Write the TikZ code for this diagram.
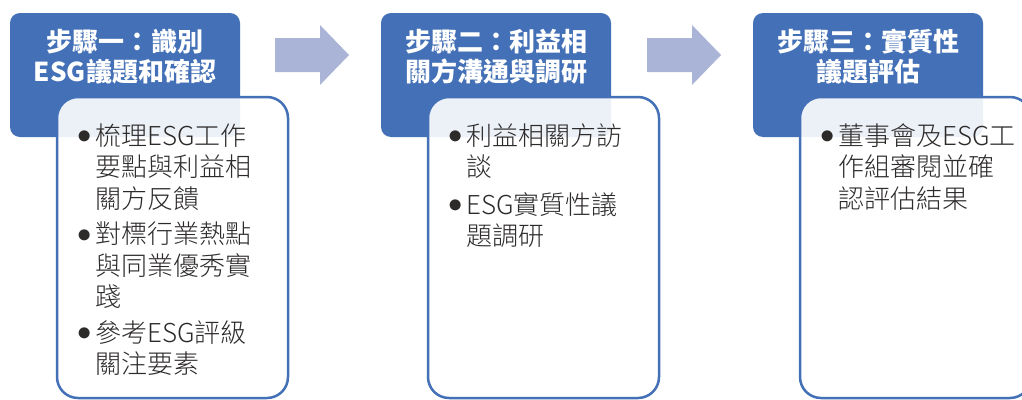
\documentclass[tikz,border=0pt]{standalone}
\usepackage{fontspec}
\setmainfont{Noto Sans CJK TC}
\newfontfamily\lightcjk{Noto Sans CJK TC Light}
\definecolor{headblue}{RGB}{67,112,182}
\definecolor{arrowblue}{RGB}{170,180,215}
\definecolor{bodytextc}{RGB}{45,42,42}
\newcommand\bul{\makebox[22pt][c]{\raisebox{1.5pt}{\scalebox{1.15}{$\bullet$}}}}
\tikzset{
  headbox/.style={draw=none, fill=headblue, rounded corners=10pt, minimum width=230pt, minimum height=124pt, inner sep=0pt},
  headtext/.style={text=white, align=center, font=\bfseries\fontsize{26}{30}\selectfont, inner sep=0pt},
  bodybox/.style={draw=headblue, line width=2.5pt, fill=white, fill opacity=0.9, rounded corners=21pt, minimum width=231pt, minimum height=301pt, inner sep=0pt},
  bodytext/.style={text=bodytextc, font=\lightcjk\fontsize{26}{31.5}\selectfont, inner sep=0pt, anchor=base west},
  blockarrow/.style={fill=arrowblue, draw=none}
}
\begin{document}
\begin{tikzpicture}[x=1pt,y=-1pt]
\clip (0,0) rectangle (1022,399);
\fill[white] (0,0) rectangle (1022,399);
% header boxes
\node[headbox] (h1) at (125,75) {};
\node[headbox] (h2) at (496,75) {};
\node[headbox] (h3) at (868,75) {};
% block arrows
\coordinate (a1) at (275,55);
\coordinate (a2) at (647,55);
\foreach \a in {a1,a2}{
  \fill[blockarrow] (\a) ++(0,-17) -- ++(45,0) -- ++(0,-13) -- ++(29,30) -- ++(-29,30) -- ++(0,-13) -- ++(-45,0) -- cycle;
}
% body boxes
\node[bodybox] (b1) at (172.5,247.5) {};
\node[bodybox] (b2) at (543.5,247.5) {};
\node[bodybox] (b3) at (915.5,247.5) {};
% header texts
\node[headtext] (h1t) at (125,57) {步驟一：識別\\ESG議題和確認};
\node[headtext] (h2t) at (496,57) {步驟二：利益相\\關方溝通與調研};
\node[headtext] (h3t) at (868,57) {步驟三：實質性\\議題評估};
% body texts
\node[bodytext] (t1) at (73,145) {\begin{tabular}[t]{@{}l@{}l@{}}
\bul & 梳理ESG工作\\
 & 要點與利益相\\
 & 關方反饋\\[4pt]
\bul & 對標行業熱點\\
 & 與同業優秀實\\
 & 踐\\[4pt]
\bul & 參考ESG評級\\
 & 關注要素
\end{tabular}};
\node[bodytext] (t2) at (444,145) {\begin{tabular}[t]{@{}l@{}l@{}}
\bul & 利益相關方訪\\
 & 談\\[6pt]
\bul & ESG實質性議\\
 & 題調研
\end{tabular}};
\node[bodytext] (t3) at (816,145) {\begin{tabular}[t]{@{}l@{}l@{}}
\bul & 董事會及ESG工\\
 & 作組審閱並確\\
 & 認評估結果
\end{tabular}};
\end{tikzpicture}
\end{document}
